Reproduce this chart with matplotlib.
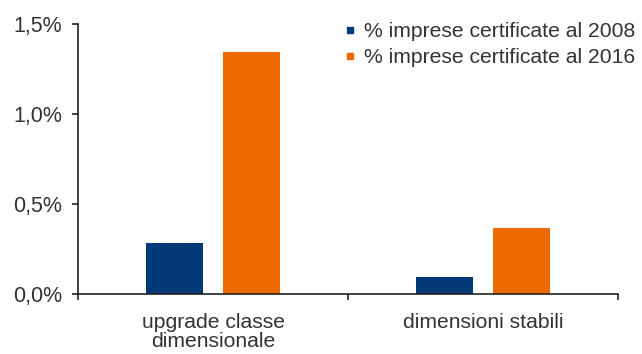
import matplotlib
matplotlib.use("Agg")
import matplotlib.pyplot as plt
import numpy as np
from matplotlib.lines import Line2D
from matplotlib.ticker import FuncFormatter

categories = ["upgrade classe\ndimensionale", "dimensioni stabili"]
series_names = ["% imprese certificate al 2008", "% imprese certificate al 2016"]
values_2008 = [0.285, 0.095]
values_2016 = [1.345, 0.365]
yticks = [0.0, 0.5, 1.0, 1.5]

blue = "#023a78"
orange = "#ee6a00"
txt = "#333333"

plt.rcParams['font.family'] = ['Liberation Sans', 'DejaVu Sans']

fig = plt.figure(figsize=(6.42, 3.54), dpi=100)
W, H = 642, 354
ax = fig.add_axes([78 / W, (H - 294) / H, (618 - 78) / W, (294 - 24) / H])

x = np.arange(len(categories))
bw = 0.211
off = 0.141
ax.bar(x - off, values_2008, bw, color=blue)
ax.bar(x + off, values_2016, bw, color=orange)

ax.set_xlim(-0.5, len(categories) - 0.5)
ax.set_ylim(0, 1.5)
ax.set_yticks(yticks)
ax.yaxis.set_major_formatter(FuncFormatter(lambda v, p: f"{v:.1f}%".replace(".", ",")))

ax.set_xticks(x)
ax.set_xticklabels(categories, linespacing=0.95)
ax.set_xticks(np.arange(len(categories) + 1) - 0.5, minor=True)
ax.tick_params(axis='x', which='major', length=0, pad=14, labelsize=15.2, labelcolor=txt)
ax.tick_params(axis='x', which='minor', length=4.5, width=1.2, direction='out', color="#222222")
ax.tick_params(axis='y', length=4.5, width=1.2, direction='out', pad=7, labelsize=15.5,
               labelcolor=txt, color="#222222")

for s in ['top', 'right']:
    ax.spines[s].set_visible(False)
for s in ['left', 'bottom']:
    ax.spines[s].set_linewidth(1.2)
    ax.spines[s].set_color("#222222")

handles = [Line2D([0], [0], marker='s', linestyle='none', markersize=4, color=c)
           for c in (blue, orange)]
leg = ax.legend(handles, series_names, loc='upper left', bbox_to_anchor=(346 / W, 1 - 22 / H),
                bbox_transform=fig.transFigure, frameon=False, fontsize=15.2,
                handlelength=0.4, handletextpad=0.45, labelspacing=0.35, borderaxespad=0.0,
                borderpad=0.0)
for t in leg.get_texts():
    t.set_color(txt)

fig.savefig("out.png", dpi=100)
